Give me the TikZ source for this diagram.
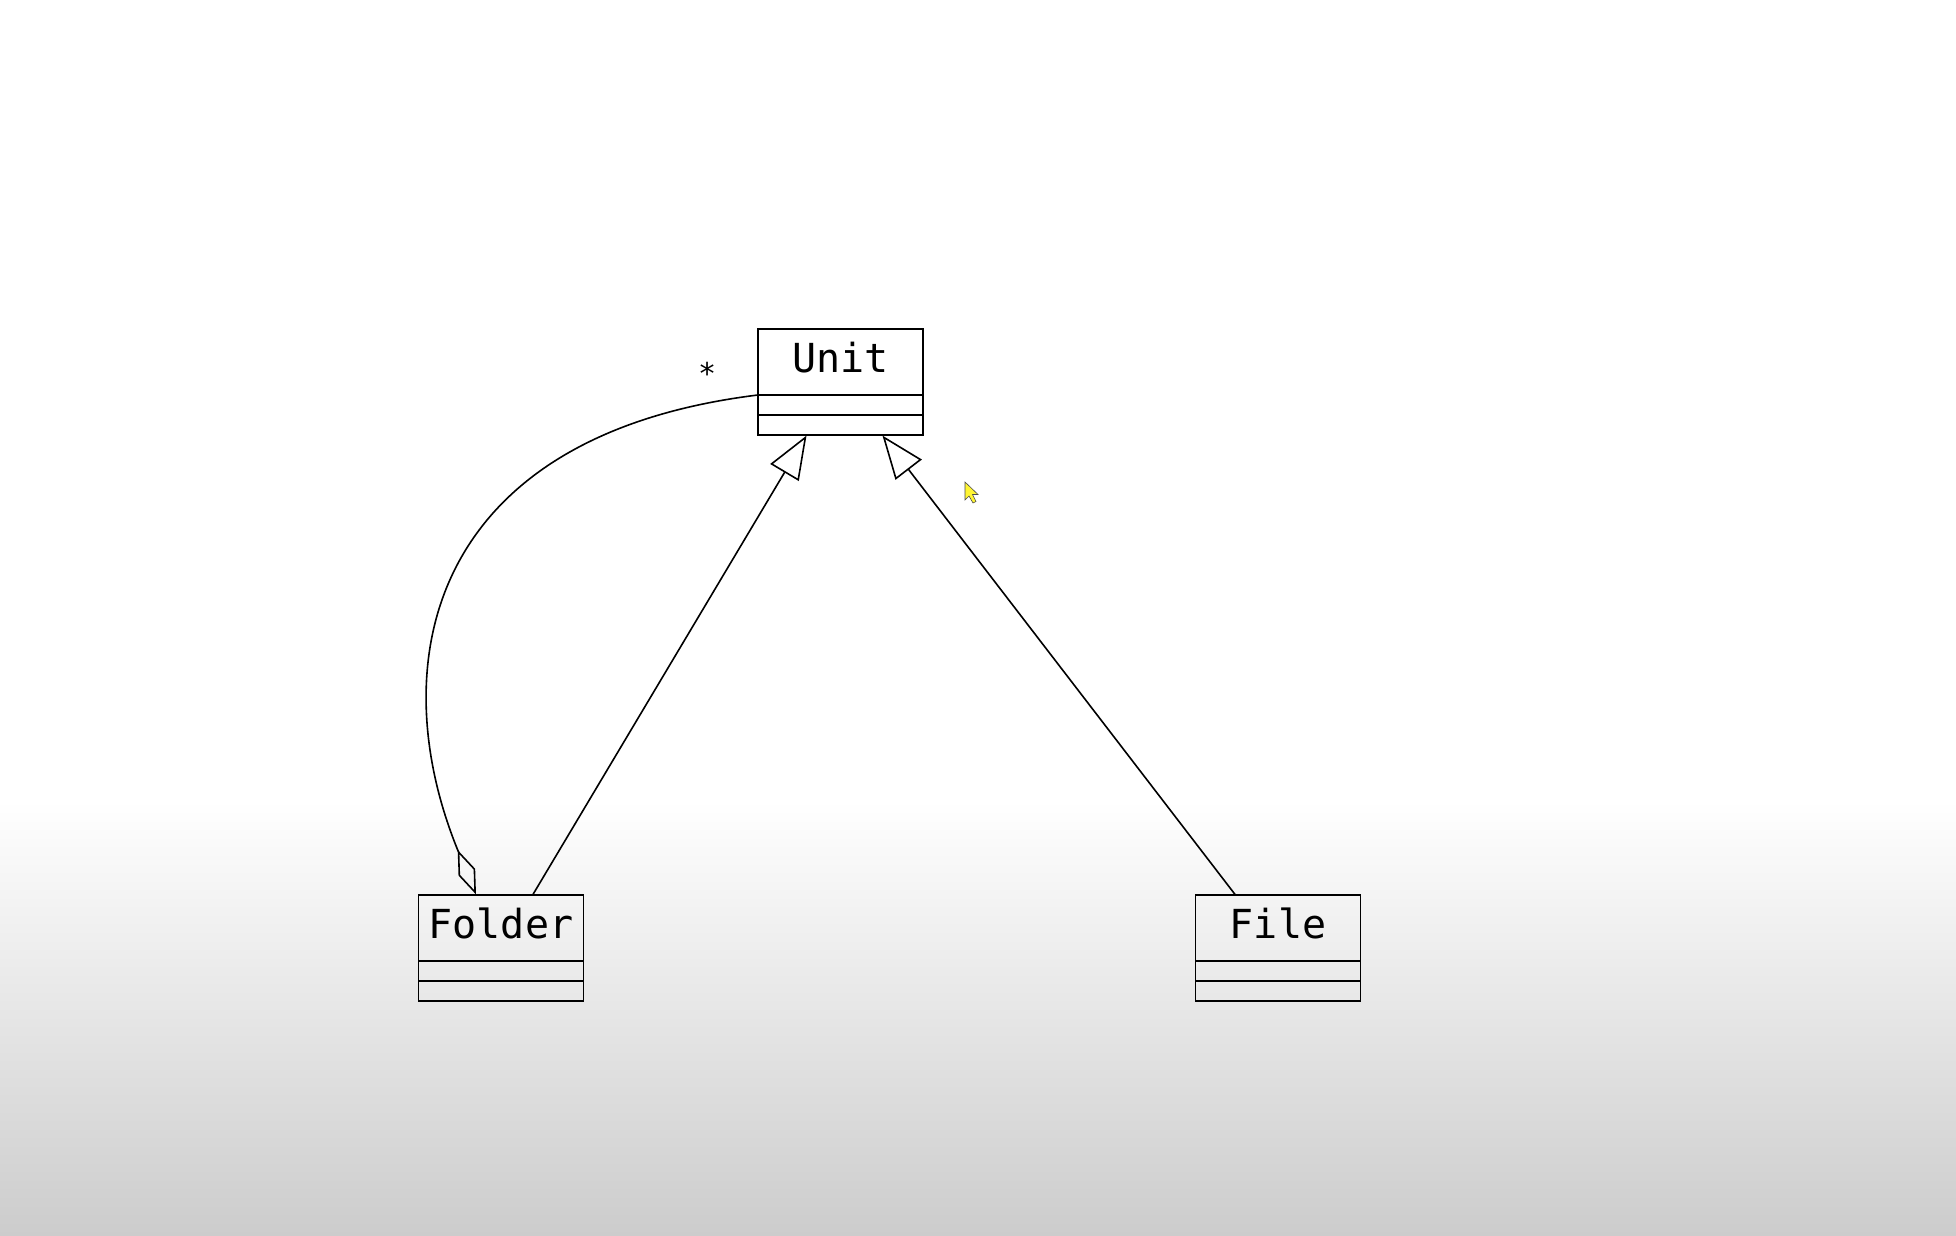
\documentclass[tikz,border=0pt]{standalone}
\usepackage{fontspec}
\setmonofont{DejaVu Sans Mono}
\usetikzlibrary{arrows.meta,shapes.multipart}

\begin{document}
\begin{tikzpicture}[
     x=0.5pt, y=-0.5pt,
     class/.style={draw,line width=0.9pt,rectangle split,rectangle split parts=3,
       rectangle split ignore empty parts=false,
       rectangle split empty part height=9pt,rectangle split empty part depth=0pt,
       inner ysep=0pt,inner xsep=0pt,minimum width=82.5pt,
       font=\ttfamily\fontsize{20}{20}\selectfont},
     mult/.style={font=\ttfamily\fontsize{15}{15}\selectfont,inner sep=0pt},
     inherit/.style={line width=0.8pt,-{Triangle[open,length=21.5pt,width=16.5pt]}},
     aggr/.style={line width=0.8pt,-{Diamond[open,length=24pt,width=9pt]}}
   ]
   \path[use as bounding box,fill=white] (0,0) rectangle (1956,1236);
   \shade[top color=white,bottom color=black!20] (0,800) rectangle (1956,1236);
   % Classes.
   \node[class] (unit) at (840.5,382) {\rule[-11pt]{0pt}{32pt}Unit};
   \node[class] (folder) at (501,948) {\rule[-11pt]{0pt}{32pt}Folder};
   \node[class] (file) at (1278,948) {\rule[-11pt]{0pt}{32pt}File};
   % Generalisation.
   \draw[inherit] ([xshift=16pt]folder.north) -- ([xshift=-17pt]unit.south);
   \draw[inherit] ([xshift=-21.5pt]file.north) -- ([xshift=21pt]unit.south);
   % Aggregation.
   \draw[aggr] (unit.text split west) .. controls (428,436) and (381,664) .. ([xshift=-12.5pt]folder.north);
   \node[mult] (many) at ([xshift=-25pt,yshift=11pt]unit.text split west) {*};
   % Pointer.
   \filldraw[fill=yellow!80!white,draw=black!70,line width=0.3pt] (965,482) -- (965,500) -- (969,496) -- (973,503) -- (976,501.5) -- (972.5,494.5) -- (978,494.5) -- cycle;
 \end{tikzpicture}
\end{document}
